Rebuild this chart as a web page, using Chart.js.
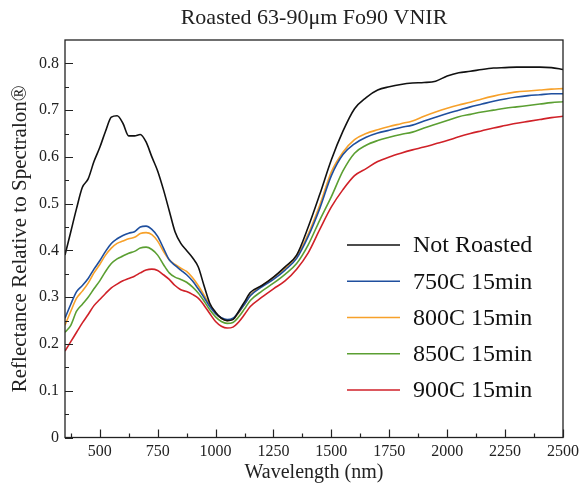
<!DOCTYPE html>
<html>
<head>
<meta charset="utf-8">
<script src="https://cdn.jsdelivr.net/npm/chart.js@4.4.0/dist/chart.umd.min.js"></script>
<style>
  body { margin: 0; background: #fff; }
  #wrap { width: 587px; height: 486px; position: relative; }
</style>
</head>
<body>
<div id="wrap"><canvas id="spectraChart"></canvas></div>
<script>
// wavelengths (nm), shared by every spectrum
const wavelengths = [350, 375, 400, 425, 450, 475, 500, 525, 550, 575, 600, 625, 650, 675, 700, 725, 750, 775, 800, 825,
  850, 875, 900, 925, 950, 975, 1000, 1025, 1050, 1075, 1100, 1125, 1150, 1200, 1250, 1300, 1350, 1400, 1450, 1500,
  1550, 1600, 1650, 1700, 1750, 1800, 1850, 1900, 1950, 2000, 2050, 2100, 2150, 2200, 2250, 2300, 2350, 2400, 2450, 2500];

const seriesNames = ["Not Roasted", "750C 15min", "800C 15min", "850C 15min", "900C 15min"];

const notRoasted = [0.39, 0.44, 0.49, 0.535, 0.553, 0.59, 0.62, 0.655, 0.685, 0.688, 0.672, 0.645, 0.645, 0.648, 0.632, 0.60, 0.57, 0.53, 0.485, 0.44,
  0.415, 0.40, 0.385, 0.365, 0.325, 0.287, 0.268, 0.255, 0.25, 0.252, 0.27, 0.29, 0.31, 0.325, 0.343, 0.365, 0.39, 0.45, 0.52, 0.594,
  0.655, 0.703, 0.727, 0.743, 0.75, 0.755, 0.758, 0.759, 0.762, 0.773, 0.78, 0.783, 0.787, 0.79, 0.791, 0.792, 0.792, 0.792, 0.791, 0.787];

const roast750 = [0.255, 0.285, 0.312, 0.325, 0.34, 0.36, 0.378, 0.398, 0.415, 0.425, 0.432, 0.437, 0.44, 0.45, 0.452, 0.445, 0.43, 0.405, 0.38, 0.368,
  0.358, 0.348, 0.335, 0.318, 0.30, 0.28, 0.265, 0.256, 0.252, 0.255, 0.268, 0.285, 0.303, 0.322, 0.338, 0.358, 0.383, 0.43, 0.49, 0.56,
  0.605, 0.628, 0.642, 0.651, 0.657, 0.663, 0.668, 0.677, 0.685, 0.693, 0.70, 0.707, 0.713, 0.719, 0.724, 0.728, 0.731, 0.733, 0.735, 0.735];

const roast800 = [0.24, 0.27, 0.298, 0.313, 0.33, 0.352, 0.37, 0.39, 0.405, 0.415, 0.42, 0.425, 0.428, 0.436, 0.438, 0.434, 0.42, 0.398, 0.38, 0.37,
  0.362, 0.355, 0.342, 0.325, 0.305, 0.283, 0.266, 0.255, 0.25, 0.253, 0.267, 0.285, 0.304, 0.325, 0.342, 0.362, 0.388, 0.435, 0.497, 0.568,
  0.61, 0.637, 0.65, 0.658, 0.665, 0.671, 0.677, 0.687, 0.696, 0.704, 0.711, 0.717, 0.724, 0.73, 0.735, 0.739, 0.741, 0.743, 0.745, 0.746];

const roast850 = [0.225, 0.24, 0.27, 0.285, 0.30, 0.318, 0.335, 0.355, 0.372, 0.382, 0.388, 0.394, 0.398, 0.405, 0.407, 0.402, 0.39, 0.37, 0.352, 0.343,
  0.338, 0.332, 0.322, 0.309, 0.292, 0.273, 0.258, 0.248, 0.244, 0.246, 0.258, 0.275, 0.293, 0.313, 0.33, 0.349, 0.372, 0.412, 0.465, 0.515,
  0.57, 0.608, 0.625, 0.635, 0.642, 0.648, 0.653, 0.662, 0.67, 0.678, 0.686, 0.691, 0.696, 0.70, 0.704, 0.707, 0.71, 0.713, 0.716, 0.718];

const roast900 = [0.185, 0.205, 0.225, 0.245, 0.263, 0.282, 0.295, 0.308, 0.32, 0.328, 0.335, 0.34, 0.345, 0.352, 0.358, 0.36, 0.357, 0.348, 0.338, 0.325,
  0.316, 0.312, 0.306, 0.298, 0.283, 0.265, 0.248, 0.238, 0.234, 0.236, 0.247, 0.263, 0.28, 0.30, 0.318, 0.335, 0.36, 0.395, 0.445, 0.493,
  0.53, 0.56, 0.575, 0.59, 0.60, 0.608, 0.615, 0.621, 0.628, 0.635, 0.643, 0.65, 0.656, 0.662, 0.667, 0.672, 0.676, 0.68, 0.684, 0.687];

// axis ticks
const xTickValues = [500, 750, 1000, 1250, 1500, 1750, 2000, 2250, 2500];
const xMinorTicks = [375, 625, 875, 1125, 1375, 1625, 1875, 2125, 2375];
const yTickValues = [0, 0.1, 0.2, 0.3, 0.4, 0.5, 0.6, 0.7, 0.8];
const yMinorTicks = [0.05, 0.15, 0.25, 0.35, 0.45, 0.55, 0.65, 0.75];

const seriesColors = ["#111111", "#1f4f9e", "#f7a12a", "#5b9f32", "#d02128"];

const allSeries = [notRoasted, roast750, roast800, roast850, roast900];

function toPoints(values){
  return values.map((v, i) => ({x: wavelengths[i], y: v}));
}

const textColor = "#222";
const serif = '"Liberation Serif", "Times New Roman", serif';

// box round the plot, inward tick marks and the legend inside the plot
const frameAndLegend = {
  id: "frameAndLegend",
  afterDraw(chart){
    const ctx = chart.ctx;
    const area = chart.chartArea;
    const xs = chart.scales.x;
    const ys = chart.scales.y;
    ctx.save();
    ctx.strokeStyle = "#222";
    ctx.lineWidth = 1.3;
    ctx.strokeRect(area.left, area.top, area.right - area.left, area.bottom - area.top);

    ctx.lineWidth = 1.2;
    ctx.beginPath();
    xTickValues.forEach(v => {
      let px = Math.round(xs.getPixelForValue(v)) + 0.5;
      ctx.moveTo(px, area.bottom); ctx.lineTo(px, area.bottom - 8);
    });
    xMinorTicks.forEach(v => {
      let px = Math.round(xs.getPixelForValue(v)) + 0.5;
      ctx.moveTo(px, area.bottom); ctx.lineTo(px, area.bottom - 4);
    });
    yTickValues.forEach(v => {
      let py = Math.round(ys.getPixelForValue(v)) + 0.5;
      ctx.moveTo(area.left, py); ctx.lineTo(area.left + 8, py);
    });
    yMinorTicks.forEach(v => {
      let py = Math.round(ys.getPixelForValue(v)) + 0.5;
      ctx.moveTo(area.left, py); ctx.lineTo(area.left + 4, py);
    });
    ctx.stroke();

    // legend
    ctx.font = "24px " + serif;
    ctx.textBaseline = "middle";
    ctx.textAlign = "left";
    chart.data.datasets.forEach((ds, i) => {
      let y = area.top + 205 + i * 36.25;
      ctx.strokeStyle = ds.borderColor;
      ctx.lineWidth = 1.5;
      ctx.beginPath();
      ctx.moveTo(area.right - 216, y);
      ctx.lineTo(area.right - 163, y);
      ctx.stroke();
      ctx.fillStyle = "#111";
      ctx.fillText(ds.label, area.right - 150, y + 1);
    });
    ctx.restore();
  }
};

document.addEventListener("DOMContentLoaded", () => {
  let context = document.getElementById("spectraChart").getContext("2d");

  window.myChart = new Chart(context, {
    type: "line",
    data: {
      datasets: allSeries.map((values, i) => ({
        label: seriesNames[i],
        data: toPoints(values),
        borderColor: seriesColors[i],
        backgroundColor: seriesColors[i],
        borderWidth: 1.6,
        pointRadius: 0,
        fill: false,
        cubicInterpolationMode: "monotone"
      }))
    },
    options: {
      responsive: true,
      maintainAspectRatio: false,
      animation: false,
      layout: {
        padding: {left: 0, right: 24, top: 0, bottom: 0}
      },
      scales: {
        x: {
          type: "linear",
          min: 350,
          max: 2500,
          grid: {display: false, drawTicks: false},
          border: {display: false},
          afterBuildTicks: (scale) => {
            scale.ticks = xTickValues.map(v => ({value: v}));
          },
          afterFit: (scale) => { scale.height = 48.5; },
          ticks: {
            padding: 5,
            autoSkip: false,
            maxRotation: 0,
            color: textColor,
            font: {family: serif, size: 16},
            callback: (value) => String(value)
          },
          title: {
            display: true,
            text: "Wavelength (nm)",
            color: textColor,
            font: {family: serif, size: 20},
            padding: {top: 0, bottom: 1}
          }
        },
        y: {
          min: 0,
          max: 0.85,
          grid: {display: false, drawTicks: false},
          border: {display: false},
          afterBuildTicks: (scale) => {
            scale.ticks = yTickValues.map(v => ({value: v}));
          },
          afterFit: (scale) => { scale.width = 65; },
          ticks: {
            padding: 6,
            autoSkip: false,
            color: textColor,
            font: {family: serif, size: 16},
            callback: (value) => String(Math.round(value * 10) / 10)
          },
          title: {
            display: true,
            text: "Reflectance Relative to Spectralon®",
            color: textColor,
            font: {family: serif, size: 21},
            padding: {top: 8, bottom: 0}
          }
        }
      },
      plugins: {
        legend: {display: false},
        tooltip: {enabled: false},
        title: {
          display: true,
          fullSize: false,
          text: "Roasted 63-90μm Fo90 VNIR",
          color: textColor,
          font: {family: serif, size: 22, weight: "normal"},
          padding: {top: 5, bottom: 8.6}
        }
      }
    },
    plugins: [frameAndLegend]
  });
});
</script>
</body>
</html>
